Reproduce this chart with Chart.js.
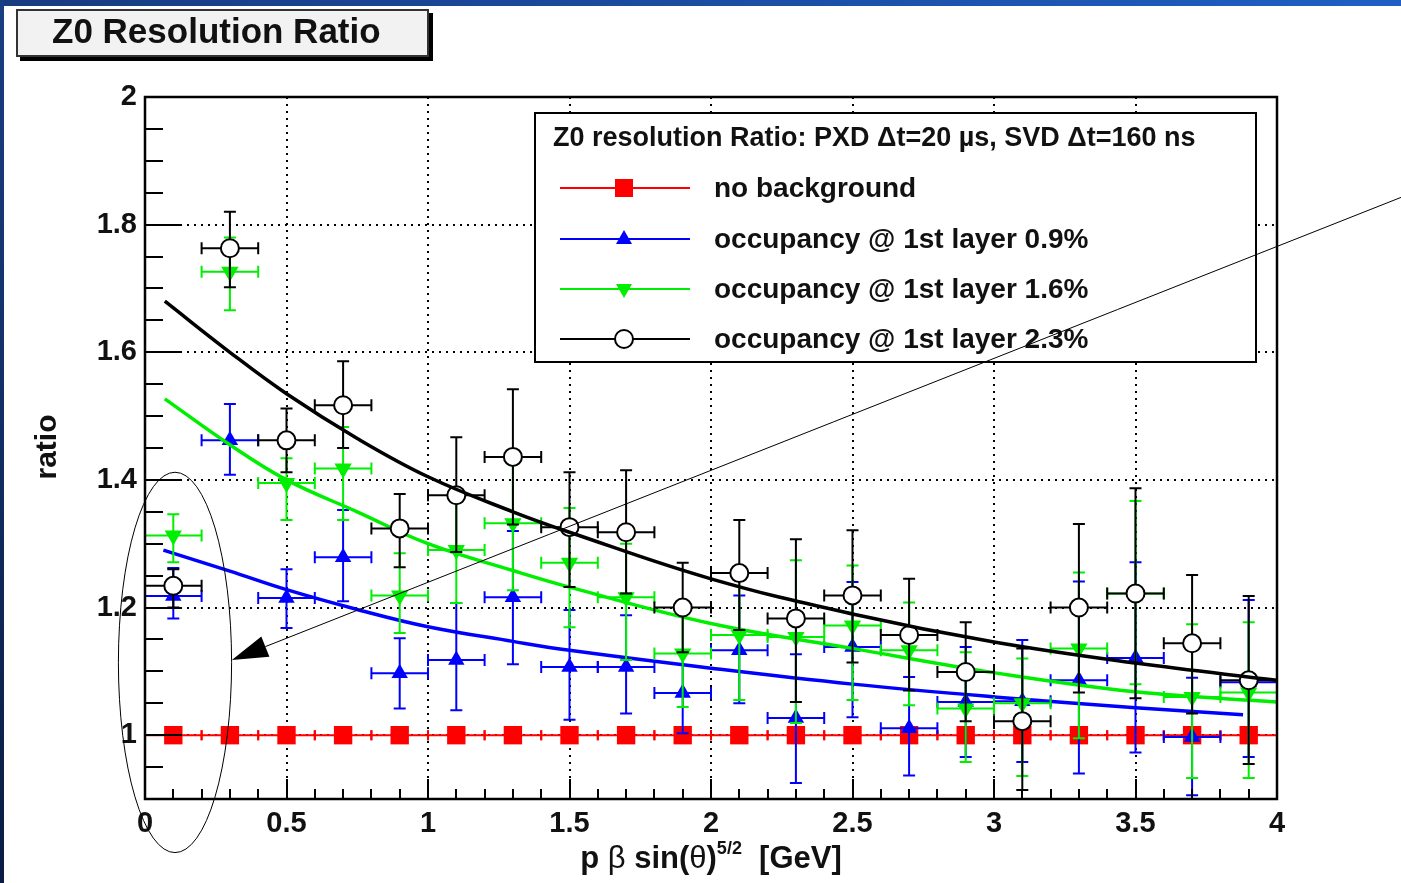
<!DOCTYPE html>
<html>
<head>
<meta charset="utf-8">
<script src="https://cdn.jsdelivr.net/npm/chart.js@4.4.1/dist/chart.umd.min.js"></script>
<style>
  body { margin: 0; background: #fff; overflow: hidden; }
  #wrap { position: relative; width: 1401px; height: 883px; }
  #chart { position: absolute; left: 0; top: 0; }
  .band-top { position: absolute; left: 0; top: 0; width: 1401px; height: 6px;
    background: linear-gradient(to right, #183b80, #1f5fc4); z-index: 3; }
  .band-left { position: absolute; left: 0; top: 0; width: 4px; height: 883px;
    background: linear-gradient(to bottom, #1a3e84, #0a1c42); z-index: 3; }
  #title { position: absolute; left: 16px; top: 9px; width: 375px; height: 44px;
    padding-left: 34px; line-height: 46px; background: #f2f2f2; border: 2px solid #333;
    box-shadow: 4px 4px 0 #000; font: bold 35px "Liberation Sans", Arial, sans-serif;
    color: #111; z-index: 2; }
</style>
</head>
<body>
<div id="wrap">
  <div class="band-top"></div>
  <div class="band-left"></div>
  <div id="title">Z0 Resolution Ratio</div>
  <canvas id="chart" width="1401" height="883"></canvas>
</div>
<script>
// bin centres (p beta sin^5/2, GeV), each bin is 0.2 wide
const binCenters = [0.1, 0.3, 0.5, 0.7, 0.9, 1.1, 1.3, 1.5, 1.7, 1.9, 2.1, 2.3, 2.5, 2.7, 2.9, 3.1, 3.3, 3.5, 3.7, 3.9];
const binHalfWidth = 0.1;

// no background
const noBackground = [1, 1, 1, 1, 1, 1, 1, 1, 1, 1, 1, 1, 1, 1, 1, 1, 1, 1, 1, 1];

// occupancy 0.9%
const occ09     = [1.218, 1.462, 1.215, 1.279, 1.097, 1.118, 1.216, 1.107, 1.107, 1.066, 1.133, 1.027, 1.138, 1.011, 1.052, 1.053, 1.086, 1.121, 0.997, 1.083];
const occ09High = [1.262, 1.519, 1.260, 1.353, 1.152, 1.207, 1.320, 1.196, 1.188, 1.133, 1.219, 1.127, 1.240, 1.091, 1.138, 1.149, 1.241, 1.271, 1.090, 1.212];
const occ09Low  = [1.183, 1.408, 1.168, 1.210, 1.042, 1.039, 1.111, 1.024, 1.034, 1.003, 1.050, 0.925, 1.028, 0.937, 0.966, 0.958, 0.940, 0.973, 0.906, 0.966];

// occupancy 1.6%
const occ16     = [1.313, 1.726, 1.395, 1.418, 1.219, 1.290, 1.332, 1.270, 1.216, 1.128, 1.157, 1.154, 1.172, 1.133, 1.042, 1.050, 1.136, 1.222, 1.060, 1.067];
const occ16High = [1.346, 1.780, 1.434, 1.483, 1.285, 1.370, 1.440, 1.356, 1.300, 1.210, 1.246, 1.274, 1.266, 1.208, 1.130, 1.120, 1.255, 1.367, 1.174, 1.177];
const occ16Low  = [1.271, 1.666, 1.337, 1.337, 1.160, 1.207, 1.227, 1.169, 1.118, 1.044, 1.055, 1.019, 1.055, 1.047, 0.958, 0.936, 0.995, 1.080, 0.933, 0.933];

// occupancy 2.3%
const occ23     = [1.234, 1.763, 1.462, 1.517, 1.324, 1.376, 1.436, 1.326, 1.318, 1.200, 1.254, 1.183, 1.219, 1.157, 1.099, 1.022, 1.200, 1.222, 1.144, 1.086];
const occ23High = [1.260, 1.820, 1.512, 1.586, 1.378, 1.467, 1.542, 1.412, 1.415, 1.270, 1.337, 1.307, 1.321, 1.245, 1.177, 1.136, 1.331, 1.387, 1.251, 1.218];
const occ23Low  = [1.200, 1.702, 1.412, 1.450, 1.263, 1.287, 1.330, 1.232, 1.222, 1.130, 1.165, 1.052, 1.114, 1.070, 1.022, 0.914, 1.067, 1.058, 1.034, 0.955];

// fitted curves
const fitX09 = [0.065, 0.3, 0.5, 0.75, 1.0, 1.3, 1.5, 2.0, 2.5, 3.0, 3.5, 3.88];
const fit09  = [1.290, 1.257, 1.228, 1.197, 1.170, 1.147, 1.133, 1.105, 1.080, 1.060, 1.043, 1.032];
const fitX16 = [0.07, 0.3, 0.5, 0.75, 1.0, 1.3, 1.5, 2.0, 2.5, 3.0, 3.5, 4.0];
const fit16  = [1.527, 1.455, 1.400, 1.350, 1.300, 1.258, 1.232, 1.175, 1.136, 1.098, 1.068, 1.052];
const fitX23 = [0.07, 0.3, 0.5, 0.75, 1.0, 1.3, 1.5, 2.0, 2.5, 3.0, 3.5, 4.0];
const fit23  = [1.680, 1.600, 1.535, 1.465, 1.405, 1.350, 1.318, 1.245, 1.190, 1.146, 1.113, 1.086];

const xTickValues = [0, 0.5, 1, 1.5, 2, 2.5, 3, 3.5, 4];
const xTickLabels = ['0', '0.5', '1', '1.5', '2', '2.5', '3', '3.5', '4'];
const yTickValues = [1, 1.2, 1.4, 1.6, 1.8, 2];
const yTickLabels = ['1', '1.2', '1.4', '1.6', '1.8', '2'];

const seriesNames = ['no background', 'occupancy @ 1st layer 0.9%', 'occupancy @ 1st layer 1.6%', 'occupancy @ 1st layer 2.3%'];
const seriesColors = ['#ff0000', '#0000ff', '#00ee00', '#000000'];
const legendTitle = 'Z0 resolution Ratio: PXD \u0394t=20 \u00b5s, SVD \u0394t=160 ns';

// annotation in data units: ellipse round the first bin and the arrow pointing at it
const noteEllipse = { x: 0.106, y: 1.114, rx: 0.2, ry: 0.298 };
const noteArrow = { fromX: 4.44, fromY: 1.843, toX: 0.307, toY: 1.118 };

const FONT = '"Liberation Sans", Arial, Helvetica, sans-serif';

const pts = (xs, ys) => xs.map((x, i) => ({ x: x, y: ys[i] }));

// ROOT style error bars, drawn just under each dataset's markers
const errorBars = {
  id: 'errorBars',
  beforeDatasetDraw(chart, args) {
    const ds = chart.data.datasets[args.index];
    if (!ds.xErr) return;
    const xs = chart.scales.x, ys = chart.scales.y, ctx = chart.ctx;
    const cap = ds.capSize;
    ctx.save();
    ctx.strokeStyle = ds.borderColor;
    ctx.lineWidth = 2;
    ds.data.forEach((p, i) => {
      const px = xs.getPixelForValue(p.x), py = ys.getPixelForValue(p.y);
      const x0 = xs.getPixelForValue(p.x - ds.xErr), x1 = xs.getPixelForValue(p.x + ds.xErr);
      ctx.beginPath();
      ctx.moveTo(x0, py); ctx.lineTo(x1, py);
      ctx.moveTo(x0, py - cap); ctx.lineTo(x0, py + cap);
      ctx.moveTo(x1, py - cap); ctx.lineTo(x1, py + cap);
      if (ds.yHigh) {
        const y0 = ys.getPixelForValue(ds.yHigh[i]), y1 = ys.getPixelForValue(ds.yLow[i]);
        ctx.moveTo(px, y0); ctx.lineTo(px, y1);
        ctx.moveTo(px - 6, y0); ctx.lineTo(px + 6, y0);
        ctx.moveTo(px - 6, y1); ctx.lineTo(px + 6, y1);
      }
      ctx.stroke();
    });
    ctx.restore();
  }
};

// dotted grid, inward ticks and the frame
const rootFrame = {
  id: 'rootFrame',
  beforeDatasetsDraw(chart) {
    const { ctx, chartArea: a } = chart;
    const xs = chart.scales.x, ys = chart.scales.y;
    ctx.save();
    ctx.strokeStyle = '#000';
    ctx.lineWidth = 2;
    ctx.setLineDash([2, 5]);
    ctx.beginPath();
    xTickValues.slice(1, -1).forEach(v => {
      const px = Math.round(xs.getPixelForValue(v));
      ctx.moveTo(px, a.top); ctx.lineTo(px, a.bottom);
    });
    yTickValues.slice(0, -1).forEach(v => {
      const py = Math.round(ys.getPixelForValue(v));
      ctx.moveTo(a.left, py); ctx.lineTo(a.right, py);
    });
    ctx.stroke();
    ctx.restore();
  },
  afterDatasetsDraw(chart) {
    const { ctx, chartArea: a } = chart;
    const xs = chart.scales.x, ys = chart.scales.y;
    ctx.save();
    ctx.strokeStyle = '#000';
    ctx.lineWidth = 2;
    ctx.beginPath();
    for (let k = 0; k <= 40; k++) {
      const px = Math.round(xs.getPixelForValue(k * 0.1));
      const len = k % 5 === 0 ? 20 : 10;
      ctx.moveTo(px, a.bottom); ctx.lineTo(px, a.bottom - len);
    }
    for (let k = 18; k <= 40; k++) {
      const py = Math.round(ys.getPixelForValue(k * 0.05));
      const len = k % 4 === 0 ? 37 : 18;
      ctx.moveTo(a.left, py); ctx.lineTo(a.left + len, py);
    }
    ctx.stroke();
    ctx.lineWidth = 2.5;
    ctx.strokeRect(a.left, a.top, a.right - a.left, a.bottom - a.top);
    ctx.restore();
  }
};

function drawMarker(ctx, kind, x, y, color) {
  ctx.save();
  ctx.fillStyle = color;
  ctx.strokeStyle = color;
  ctx.beginPath();
  if (kind === 'square') {
    ctx.rect(x - 9, y - 9, 18, 18);
    ctx.fill();
  } else if (kind === 'up') {
    ctx.moveTo(x, y - 9); ctx.lineTo(x + 8, y + 5); ctx.lineTo(x - 8, y + 5); ctx.closePath();
    ctx.fill();
  } else if (kind === 'down') {
    ctx.moveTo(x, y + 9); ctx.lineTo(x + 8, y - 5); ctx.lineTo(x - 8, y - 5); ctx.closePath();
    ctx.fill();
  } else {
    ctx.arc(x, y, 9, 0, Math.PI * 2);
    ctx.fillStyle = '#fff';
    ctx.fill();
    ctx.lineWidth = 2;
    ctx.stroke();
  }
  ctx.restore();
}

// legend box, axis titles and the hand drawn ellipse + arrow
const decorations = {
  id: 'decorations',
  afterDraw(chart) {
    const ctx = chart.ctx;
    const xs = chart.scales.x, ys = chart.scales.y;
    ctx.save();

    // legend
    const lx = 535, ly = 113, lw = 721, lh = 249;
    ctx.fillStyle = '#fff';
    ctx.fillRect(lx, ly, lw, lh);
    ctx.strokeStyle = '#000';
    ctx.lineWidth = 2;
    ctx.strokeRect(lx, ly, lw, lh);
    ctx.fillStyle = '#111';
    ctx.textBaseline = 'middle';
    ctx.textAlign = 'left';
    ctx.font = 'bold 27px ' + FONT;
    ctx.fillText(legendTitle, 553, 139, 672);
    const kinds = ['square', 'up', 'down', 'circle'];
    const rows = [188, 239, 289, 339];
    seriesNames.forEach((name, i) => {
      ctx.strokeStyle = seriesColors[i];
      ctx.lineWidth = 2;
      ctx.beginPath();
      ctx.moveTo(560, rows[i]); ctx.lineTo(690, rows[i]);
      ctx.stroke();
      drawMarker(ctx, kinds[i], 624, rows[i], seriesColors[i]);
      ctx.fillStyle = '#111';
      ctx.font = 'bold 28px ' + FONT;
      ctx.fillText(name, 714, rows[i] + 1);
    });

    // y title
    ctx.save();
    ctx.translate(48, 447);
    ctx.rotate(-Math.PI / 2);
    ctx.textAlign = 'center';
    ctx.font = 'bold 30px ' + FONT;
    ctx.fillStyle = '#111';
    ctx.fillText('ratio', 0, 0);
    ctx.restore();

    // x title with greek letters and a superscript
    const parts = [
      { t: 'p ', f: 'bold 31px ' + FONT, dy: 0 },
      { t: '\u03b2', f: '31px ' + FONT, dy: 0 },
      { t: ' sin(', f: 'bold 31px ' + FONT, dy: 0 },
      { t: '\u03b8', f: '31px ' + FONT, dy: 0 },
      { t: ')', f: 'bold 31px ' + FONT, dy: 0 },
      { t: '5/2', f: 'bold 18px ' + FONT, dy: -14 },
      { t: '  [GeV]', f: 'bold 31px ' + FONT, dy: 0 }
    ];
    let total = 0;
    parts.forEach(p => { ctx.font = p.f; p.w = ctx.measureText(p.t).width; total += p.w; });
    let cx = 711 - total / 2;
    ctx.textBaseline = 'alphabetic';
    parts.forEach(p => {
      ctx.font = p.f;
      ctx.fillText(p.t, cx, 868 + p.dy);
      cx += p.w;
    });

    // ellipse round the lowest bin
    const ex = xs.getPixelForValue(noteEllipse.x), ey = ys.getPixelForValue(noteEllipse.y);
    const erx = xs.getPixelForValue(noteEllipse.x + noteEllipse.rx) - ex;
    const ery = ey - ys.getPixelForValue(noteEllipse.y + noteEllipse.ry);
    ctx.strokeStyle = '#000';
    ctx.lineWidth = 1;
    ctx.beginPath();
    ctx.ellipse(ex, ey, erx, ery, 0, 0, Math.PI * 2);
    ctx.stroke();

    // arrow
    const ax0 = xs.getPixelForValue(noteArrow.fromX), ay0 = ys.getPixelForValue(noteArrow.fromY);
    const ax1 = xs.getPixelForValue(noteArrow.toX), ay1 = ys.getPixelForValue(noteArrow.toY);
    const ang = Math.atan2(ay1 - ay0, ax1 - ax0);
    const hl = 36, hw = 11;
    const bx = ax1 - hl * Math.cos(ang), by = ay1 - hl * Math.sin(ang);
    ctx.beginPath();
    ctx.moveTo(ax0, ay0); ctx.lineTo(bx, by);
    ctx.stroke();
    ctx.fillStyle = '#000';
    ctx.beginPath();
    ctx.moveTo(ax1, ay1);
    ctx.lineTo(bx + hw * Math.sin(ang), by - hw * Math.cos(ang));
    ctx.lineTo(bx - hw * Math.sin(ang), by + hw * Math.cos(ang));
    ctx.closePath();
    ctx.fill();

    ctx.restore();
  }
};

const ctx = document.getElementById('chart').getContext('2d');
new Chart(ctx, {
  type: 'scatter',
  data: {
    datasets: [
      {
        label: seriesNames[3] + ' fit', data: pts(fitX23, fit23), showLine: true,
        borderColor: '#000', borderWidth: 3.5, pointRadius: 0, tension: 0.4, order: 1
      },
      {
        label: seriesNames[3], data: pts(binCenters, occ23), yHigh: occ23High, yLow: occ23Low,
        xErr: binHalfWidth, capSize: 6, borderColor: '#000', backgroundColor: '#fff',
        pointStyle: 'circle', pointRadius: 9, pointBorderWidth: 2, order: 2
      },
      {
        label: seriesNames[2] + ' fit', data: pts(fitX16, fit16), showLine: true,
        borderColor: seriesColors[2], borderWidth: 3.5, pointRadius: 0, tension: 0.4, order: 3
      },
      {
        label: seriesNames[2], data: pts(binCenters, occ16), yHigh: occ16High, yLow: occ16Low,
        xErr: binHalfWidth, capSize: 6, borderColor: seriesColors[2], backgroundColor: seriesColors[2],
        pointStyle: 'triangle', pointRotation: 180, pointRadius: 10, pointBorderWidth: 0, order: 4
      },
      {
        label: seriesNames[1] + ' fit', data: pts(fitX09, fit09), showLine: true,
        borderColor: seriesColors[1], borderWidth: 3.5, pointRadius: 0, tension: 0.4, order: 5
      },
      {
        label: seriesNames[1], data: pts(binCenters, occ09), yHigh: occ09High, yLow: occ09Low,
        xErr: binHalfWidth, capSize: 6, borderColor: seriesColors[1], backgroundColor: seriesColors[1],
        pointStyle: 'triangle', pointRadius: 9.5, pointBorderWidth: 0, order: 6
      },
      {
        label: seriesNames[0], data: pts(binCenters, noBackground),
        xErr: binHalfWidth, capSize: 5, borderColor: seriesColors[0], backgroundColor: seriesColors[0],
        pointStyle: 'rect', pointRadius: 13, pointBorderWidth: 0, order: 7
      }
    ]
  },
  options: {
    responsive: false,
    animation: false,
    events: [],
    layout: { padding: { left: 0, top: 97, right: 124, bottom: 0 } },
    plugins: { legend: { display: false }, tooltip: { enabled: false } },
    scales: {
      x: {
        type: 'linear', min: 0, max: 4,
        afterFit: s => { s.height = 84; },
        afterBuildTicks: s => { s.ticks = xTickValues.map(v => ({ value: v })); },
        grid: { display: false, drawTicks: false },
        border: { display: false },
        ticks: {
          autoSkip: false, maxRotation: 0, padding: 8, color: '#111',
          font: { family: FONT, size: 29, weight: 'bold' },
          callback: (v, i) => xTickLabels[i]
        }
      },
      y: {
        type: 'linear', min: 0.9, max: 2,
        afterFit: s => { s.width = 145; },
        afterBuildTicks: s => { s.ticks = yTickValues.map(v => ({ value: v })); },
        grid: { display: false, drawTicks: false },
        border: { display: false },
        ticks: {
          autoSkip: false, padding: 8, color: '#111',
          font: { family: FONT, size: 29, weight: 'bold' },
          callback: (v, i) => yTickLabels[i]
        }
      }
    }
  },
  plugins: [rootFrame, errorBars, decorations]
});
</script>
</body>
</html>
